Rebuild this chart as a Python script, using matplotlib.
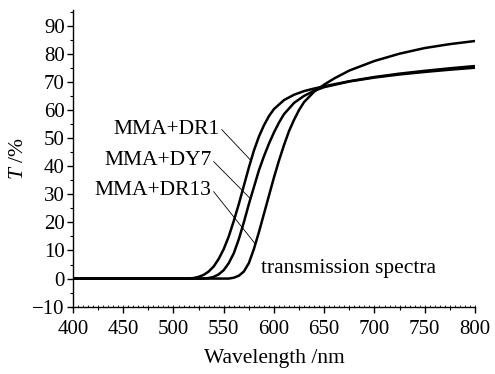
import matplotlib
matplotlib.use("Agg")
import matplotlib.pyplot as plt
from matplotlib.ticker import MultipleLocator

plt.rcParams['font.family'] = ['Liberation Serif', 'DejaVu Serif']
plt.rcParams['mathtext.fontset'] = 'custom'
plt.rcParams['mathtext.it'] = 'Liberation Serif:italic'
plt.rcParams['mathtext.rm'] = 'Liberation Serif'

# transmission spectra (wavelength nm, T %)
wl_dr1 = [400, 450, 500, 515, 520, 525, 530, 535, 540, 545, 550, 555, 560, 565, 570, 575, 580, 585, 590,
          595, 600, 610, 620, 630, 640, 650, 675, 700, 725, 750, 775, 800]
t_dr1 = [0, 0, 0, 0, 0.2, 0.6, 1.3, 2.5, 4.3, 7, 10.5, 15, 20.5, 26.5, 33, 39.5, 45.5, 50.5, 54.5,
         57.8, 60.3, 63.5, 65.4, 66.7, 67.6, 68.4, 70.2, 71.7, 72.9, 73.9, 74.8, 75.6]

wl_dy7 = [400, 450, 500, 530, 535, 540, 545, 550, 555, 560, 565, 570, 575, 580, 585, 590, 595, 600,
          605, 610, 620, 630, 640, 650, 675, 700, 725, 750, 775, 800]
t_dy7 = [0, 0, 0, 0, 0.2, 0.6, 1.5, 3, 5.5, 9, 14, 20, 26.5, 32.5, 38.5, 43.5, 48, 52,
         55.5, 58.5, 62.5, 65, 66.8, 68.1, 70.1, 71.5, 72.6, 73.5, 74.3, 75]

wl_dr13 = [400, 450, 500, 555, 560, 565, 570, 575, 580, 585, 590, 595, 600, 605, 610, 615, 620, 625,
           630, 640, 650, 660, 675, 700, 725, 750, 775, 800]
t_dr13 = [0, 0, 0, 0, 0.3, 1, 2.5, 5.5, 10.5, 16.5, 23, 29.5, 36, 42, 47.5, 52.5, 56.5, 60,
          62.8, 66.5, 69, 71.2, 74, 77.4, 80, 82, 83.4, 84.5]

fig = plt.figure(figsize=(4.95, 3.74), dpi=100)
ax = fig.add_axes([0.1475, 0.18, 0.812, 0.793])

for wl, t in [(wl_dr1, t_dr1), (wl_dy7, t_dy7), (wl_dr13, t_dr13)]:
    ax.plot(wl, t, color='black', lw=1.8, solid_joinstyle='round', solid_capstyle='round')

# curve labels, each with a thin leader line from the end of the text
fs = 15.5
ax.text(546, 53.2, 'MMA+DR1', fontsize=fs, ha='right', va='center')
ax.plot([548, 576], [53, 42.4], color='black', lw=0.6)
ax.text(538, 41.9, 'MMA+DY7', fontsize=fs, ha='right', va='center')
ax.plot([540, 576], [41.6, 28.6], color='black', lw=0.6)
ax.text(538, 31.2, 'MMA+DR13', fontsize=fs, ha='right', va='center')
ax.plot([540, 581], [30.9, 12.5], color='black', lw=0.6)
ax.text(587, 3.7, 'transmission spectra', fontsize=fs, ha='left', va='center')

ax.set_xlim(400, 800)
ax.set_ylim(-10, 95.5)
ax.xaxis.set_major_locator(MultipleLocator(50))
ax.xaxis.set_minor_locator(MultipleLocator(25))
ax.yaxis.set_major_locator(MultipleLocator(10))
ax.yaxis.set_minor_locator(MultipleLocator(5))
ax.tick_params(which='major', direction='out', length=4.5, width=1, labelsize=15)
ax.tick_params(axis='x', which='major', pad=5)
ax.tick_params(axis='y', which='major', pad=1.5)
ax.tick_params(which='minor', direction='out', length=2.5, width=0.8)

# tiny inner ticks along the wavelength axis
sec = ax.secondary_xaxis('bottom')
sec.xaxis.set_major_locator(MultipleLocator(5))
sec.tick_params(direction='in', length=1.5, width=0.6, labelbottom=False)
sec.spines['bottom'].set_visible(False)

for s in ['top', 'right']:
    ax.spines[s].set_visible(False)
for s in ['left', 'bottom']:
    ax.spines[s].set_linewidth(1)

ax.set_xlabel('Wavelength /nm', fontsize=fs, labelpad=7)
ax.set_ylabel('$T$ /%', fontsize=fs, labelpad=3)

fig.savefig('out.png', dpi=100)
